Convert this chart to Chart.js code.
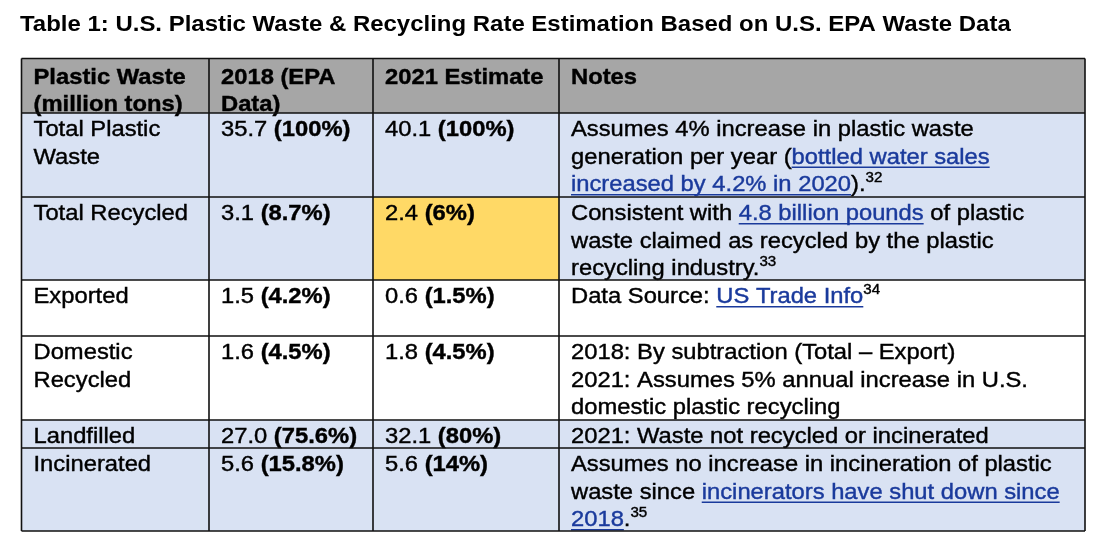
<!DOCTYPE html>
<html>
<head>
<meta charset="utf-8">
<script src="https://cdn.jsdelivr.net/npm/chart.js@4.4.1/dist/chart.umd.min.js"></script>
<style>
  html, body { margin: 0; background: #fff; }
</style>
</head>
<body>
<canvas id="wasteTable" width="1098" height="544"></canvas>
<script>
// Table 1 data (EPA plastic waste)
const titleText = 'Table 1: U.S. Plastic Waste & Recycling Rate Estimation Based on U.S. EPA Waste Data';
const headers = ['Plastic Waste\n(million tons)', '2018 (EPA\nData)', '2021 Estimate', 'Notes'];
const rowLabels = ['Total Plastic\nWaste', 'Total Recycled', 'Exported', 'Domestic\nRecycled', 'Landfilled', 'Incinerated'];
const tons2018 = [35.7, 3.1, 1.5, 1.6, 27.0, 5.6];
const pct2018 = [100, 8.7, 4.2, 4.5, 75.6, 15.8];
const tons2021 = [40.1, 2.4, 0.6, 1.8, 32.1, 5.6];
const pct2021 = [100, 6, 1.5, 4.5, 80, 14];
// [..] = link, ^n = footnote
const notes = [
    'Assumes 4% increase in plastic waste\ngeneration per year ([bottled water sales]\n[increased by 4.2% in 2020]).^32',
    'Consistent with [4.8 billion pounds] of plastic\nwaste claimed as recycled by the plastic\nrecycling industry.^33',
    'Data Source: [US Trade Info]^34',
    '2018: By subtraction (Total \u2013 Export)\n2021: Assumes 5% annual increase in U.S.\ndomestic plastic recycling',
    '2021: Waste not recycled or incinerated',
    'Assumes no increase in incineration of plastic\nwaste since [incinerators have shut down since]\n[2018].^35'
];

// layout (table units, one unit ~ one pixel)
const colEdges = [0, 187.5, 351.5, 537.5, 1063.5];
const rowEdges = [0, 54.5, 138.5, 221.5, 277.5, 361.5, 389.5, 472.5];
const shadedRows = [0, 1, 4, 5];
const highlightCell = { row: 1, col: 2 };

const FONT = '"Liberation Sans", Arial, sans-serif';
const SX = 1.08;          // the scan is a bit wide
const LINE_H = 27.5;
const linkColor = '#1a3a9c';

function parseRuns(line, bold) {
    const runs = [];
    const re = /\[([^\]]+)\]|\^(\d+)|([^\[\^]+)/g;
    let m;
    while ((m = re.exec(line)) !== null) {
        if (m[1]) runs.push({ t: m[1], link: true, bold });
        else if (m[2]) runs.push({ t: m[2], sup: true, bold });
        else runs.push({ t: m[3], bold });
    }
    return runs;
}

function drawRuns(ctx, x, y, runs) {
    let cx = x;
    runs.forEach(r => {
        const size = r.sup ? 14 : 22;
        ctx.font = (r.bold ? 'bold ' : '') + size + 'px ' + FONT;
        ctx.fillStyle = r.link ? linkColor : '#000';
        ctx.strokeStyle = ctx.fillStyle;
        ctx.lineWidth = 0.4;
        const w = ctx.measureText(r.t).width * SX;
        const ty = r.sup ? y - 9 : y;
        ctx.save();
        ctx.translate(cx, ty);
        ctx.scale(SX, 1);
        ctx.fillText(r.t, 0, 0);
        ctx.strokeText(r.t, 0, 0);
        ctx.restore();
        if (r.link) {
            ctx.fillStyle = linkColor;
            ctx.fillRect(cx, y + 3, w, 1.5);
        }
        cx += w;
    });
}

function cellLines(row, col) {
    if (row === 0) return headers[col].split('\n').map(l => parseRuns(l, true));
    const i = row - 1;
    if (col === 0) return rowLabels[i].split('\n').map(l => parseRuns(l, false));
    if (col === 1 || col === 2) {
        const v = col === 1 ? tons2018[i] : tons2021[i];
        const p = col === 1 ? pct2018[i] : pct2021[i];
        return [[{ t: v.toFixed(1) + ' ' }, { t: '(' + p + '%)', bold: true }]];
    }
    return notes[i].split('\n').map(l => parseRuns(l, false));
}

const tablePlugin = {
    id: 'tablePlugin',
    afterDraw(chart) {
        const ctx = chart.ctx;
        const xs = chart.scales.x;
        const ys = chart.scales.y;
        const px = v => xs.getPixelForValue(v);
        const py = v => ys.getPixelForValue(v);
        const nRows = rowEdges.length - 1;
        const nCols = colEdges.length - 1;

        ctx.save();
        // title
        ctx.font = 'bold 22.2px ' + FONT;
        ctx.fillStyle = '#000';
        ctx.textBaseline = 'alphabetic';
        ctx.save();
        ctx.translate(20, 31);
        ctx.scale(SX, 1);
        ctx.fillText(titleText, 0, 0);
        ctx.restore();

        // cell fills
        for (let r = 0; r < nRows; r++) {
            for (let c = 0; c < nCols; c++) {
                let fill = '#ffffff';
                if (r === 0) fill = '#a6a6a6';
                else if (r - 1 === highlightCell.row && c === highlightCell.col) fill = '#ffd966';
                else if (shadedRows.includes(r - 1)) fill = '#d9e2f3';
                ctx.fillStyle = fill;
                ctx.fillRect(px(colEdges[c]), py(rowEdges[r]), px(colEdges[c + 1]) - px(colEdges[c]), py(rowEdges[r + 1]) - py(rowEdges[r]));
            }
        }

        // cell text
        for (let r = 0; r < nRows; r++) {
            for (let c = 0; c < nCols; c++) {
                const lines = cellLines(r, c);
                const x0 = px(colEdges[c]) + 12;
                const y0 = py(rowEdges[r]) + (r === 0 ? 25 : 23);
                lines.forEach((runs, k) => drawRuns(ctx, x0, y0 + k * LINE_H, runs));
            }
        }

        // grid lines
        ctx.strokeStyle = '#111';
        ctx.lineWidth = 1.6;
        ctx.beginPath();
        rowEdges.forEach(v => {
            ctx.moveTo(px(colEdges[0]), py(v));
            ctx.lineTo(px(colEdges[nCols]), py(v));
        });
        colEdges.forEach(v => {
            ctx.moveTo(px(v), py(rowEdges[0]));
            ctx.lineTo(px(v), py(rowEdges[nRows]));
        });
        ctx.stroke();
        ctx.restore();
    }
};

new Chart(document.getElementById('wasteTable'), {
    type: 'scatter',
    data: { datasets: [{ data: [], pointRadius: 0 }] },
    options: {
        responsive: false,
        animation: false,
        events: [],
        layout: { padding: { left: 21.5, top: 58.5, right: 13, bottom: 13 } },
        plugins: { legend: { display: false }, tooltip: { enabled: false } },
        scales: {
            x: { type: 'linear', display: false, min: colEdges[0], max: colEdges[colEdges.length - 1] },
            y: { type: 'linear', display: false, reverse: true, min: rowEdges[0], max: rowEdges[rowEdges.length - 1] }
        }
    },
    plugins: [tablePlugin]
});
</script>
</body>
</html>
